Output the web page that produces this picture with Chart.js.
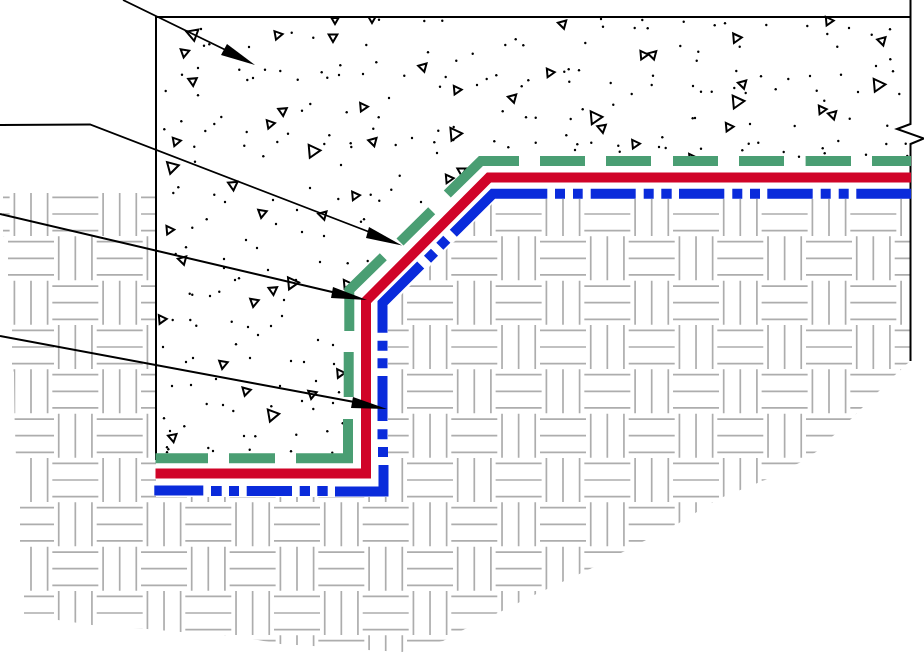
<!DOCTYPE html>
<html>
<head>
<meta charset="utf-8">
<style>
  html, body { margin: 0; padding: 0; background: #fff; }
  canvas { display: block; }
</style>
<script src="https://cdn.jsdelivr.net/npm/chart.js@4"></script>
</head>
<body>
<canvas id="section" width="924" height="652"></canvas>
<script>
// everything is in drawing units: x 0..924, y 0..652 (y runs downwards)

const weaveRows = [214, 258.3, 302.7, 347, 391.3, 435.7, 480, 524.3, 568.7, 613, 657.3];
const weaveCols = [-57.7, 31, 119.7, 208.3, 297, 385.7, 474.3, 563, 651.7, 740.3, 829, 917.7];
const weaveStep = [-16.6, 0, 16.6];

const soilOutline = [[156,0],[924,0],[924,652],[0,652],[0,0],[156,0],[156,193],[3,193],[3,236],[8,238],[8,280],[12,282],[12,325],[12,370],[14,372],[14,414],[15,416],[16,458],[20,460],[20,503],[20,546],[24,548],[24,594],[24,614],[58,620],[92,625],[147,629],[181,632],[236,636],[280,644],[313,646],[368,650],[402,652],[443,641],[465,629],[500,612],[530,597],[590,569],[679,523],[718,499],[765,480],[799,463],[816,452],[833,436],[851,419],[862,408],[879,391],[895,375],[908,363],[911,361],[911,199],[497,199],[388,308],[388,497],[156,497],[156,193]];

const wallLines = [
  [[156,460],[156,17],[911,17]],
  [[910.5,0],[910.5,124],[897,129],[924,138.5],[910.5,144],[910.5,361]]
];
const leaderLines = [
  [[123,0],[240,57]],
  [[0,125],[90,124.5],[385,238]],
  [[0,214],[345,295]],
  [[0,336],[365,404]]
];
const arrowHeads = [
  [[255,65],[227,44],[221,55]],
  [[402,245.5],[369,227],[366,238]],
  [[367,300],[333,287],[331,298]],
  [[387,409],[353,397],[351,408]]
];

const greenDashes = [
  [[447.3,194],[481,161],[519,161]],
  [[540,161],[585,161]], [[606,161],[651,161]], [[673,161],[718,161]],
  [[739,161],[784,161]], [[805.6,161],[851,161]], [[872,161],[911,161]],
  [[431.7,210.7],[400,242]],
  [[383.3,256.7],[349.3,290],[349.3,331]],
  [[348.7,352],[348.7,397]],
  [[348,419],[348,458.3],[296,458.3]],
  [[275,458.3],[229,458.3]],
  [[208,458.3],[155.5,458.3]]
];
const redLine = [[[155.5,473.5],[366,473.5],[366,301],[489,177.5],[911,177.5]]];
const blueDashes = [
  [[453.3,233.3],[493,193.8],[547.3,193.8]],
  [[555,193.8],[565,193.8]], [[573,193.8],[582.7,193.8]],
  [[590.7,193.8],[635.7,193.8]],
  [[643.7,193.8],[653.7,193.8]], [[661.3,193.8],[671.7,193.8]],
  [[679,193.8],[724.3,193.8]],
  [[732.3,193.8],[742.3,193.8]], [[750,193.8],[760,193.8]],
  [[767.3,193.8],[812.7,193.8]],
  [[820.7,193.8],[830.7,193.8]], [[838.7,193.8],[848.7,193.8]],
  [[856.3,193.8],[911,193.8]],
  [[446.8,239.2],[439.8,246.2]], [[434.5,252.2],[427.5,259.2]],
  [[420.7,265],[382.5,303],[382.5,332.7]],
  [[382.5,340.7],[382.5,350.7]], [[382.5,358.3],[382.5,368.3]],
  [[382.5,376],[382.5,421]],
  [[382.5,429.3],[382.5,439.3]], [[383,447],[383,457]],
  [[383.5,465],[383.5,491.5],[335,491.5]],
  [[327.7,491],[317.3,491]], [[310,491],[299.7,491]],
  [[292,491],[246.7,491]],
  [[239,491],[229,491]], [[221.7,491],[211,491]],
  [[203.3,490.5],[154.3,490.5]]
];

// aggregate stones: x, y, size, turn
const stones = [
  [193,34,7,170],[184.5,52.5,5,190],[192.7,81,5,175],[277.7,35,5,200],[333,37,5,180],[335,20,4,180],[372,19,4,180],
  [282.7,111,5,175],[270,124,5,200],[363,107,5,205],[176,141.5,5,200],[313,151,7.5,205],[373,141.5,5,165],[172,167,7,195],
  [562.7,24,5,165],[423,67,5,165],[456.7,90,5,205],[512.7,98,5,165],[549.7,72.7,5,205],[643.3,55,5,205],[652.7,54.7,5,165],
  [595,117.5,7.5,205],[602,128,5,170],[454.7,134,7.5,205],[635,144,5,205],[448.7,178.7,5,205],[461.7,171,5,180],[355,195.7,5,205],
  [346.7,284,5,205],[233,185,5.5,175],[169.3,230,5,205],[323,215,5,165],[262,213,5,190],[182.7,260,5,165],[161.7,319.3,5,205],
  [292,283,7,205],[273,290,5,175],[254,302,5,190],[223,364,5,190],[246,391,5,195],[312,394,5,190],[272.3,415,7,200],[172.7,437.3,5,170],
  [340,373.3,5,205],[736.3,38,5.5,205],[742.7,84,5,165],[737,101.7,7.5,205],[728.7,127,5,205],[828.7,21,5,205],[882,40.7,5,165],
  [878,85,7.5,205],[821.7,109.7,5,205],[832.7,114.7,5,165],[692,158,5,205]
];

const dotsUpperLeft = [[201,29],[204,45.7],[209.3,44.3],[249,47],[291.7,32.7],[313.3,37.7],[366.3,45],[376.3,62.3],[340.3,65.3],[198,68],[182,74.7],[239.3,69.7],[265,69.7],[280.3,71],[247.3,80],[253,78],[297.7,79.7],[321.7,72.3],[327.3,77.7],[339,75],[363,74],[165.7,91],[198,95.3],[389,98],[310.3,104],[302,110.7],[346.7,112.3],[181.3,121.3],[221.3,117],[214.3,124],[164.3,129.3],[205.3,131],[246.7,132],[288,133.7],[329.3,135.3],[378.7,117.3],[373.3,128.7],[194.3,146.7],[244.3,145.7],[277.3,142],[324.3,144],[350.7,143.3],[351.3,147],[263.3,156.3],[195,161.7],[379,19.7]];
const dotsUpperMiddle = [[424.3,21],[442.3,20.7],[601,19],[603,26.7],[634.7,28],[647.7,28.3],[642.3,20],[515.7,39.3],[505.3,45],[523.3,45.3],[585.3,43],[428,52.3],[472.7,53.7],[456.3,60.7],[404.3,75.7],[445.7,77],[496.3,75.3],[486.7,79],[477,85],[440,86.7],[528.3,80.3],[521.7,86.3],[568.7,69.3],[564.3,71.7],[579,70.3],[569.3,81.7],[610.7,83],[653,75.7],[651.7,85],[631.7,94],[613.3,104.7],[582.7,109.3],[502.7,111.3],[526,117.3],[535.7,117.7],[570.7,119],[438.3,130.7],[453.7,127],[453.3,140],[412,138],[434.3,142.3],[395.7,145],[437,153],[494.3,141.3],[508.3,147.3],[535.7,142.7],[566.3,135.3],[577.3,144.3],[575,150],[591.3,142.7],[618.3,145.7],[619.7,151.7],[659,147]];
const dotsUpperRight = [[683.7,21.7],[714.7,25.3],[725,23.3],[766.3,25],[807.3,26],[849,28],[890,29.3],[827.3,34],[871.7,34.7],[680.3,46],[698.3,51.7],[696.7,60.7],[739.7,46.7],[837.3,46.7],[890.3,59.3],[876,66],[893,71.3],[736.3,71],[761,76.3],[788.3,79],[810,76],[841,74.7],[693,86],[701,91.7],[711.7,91.7],[734.3,88],[745.7,93],[775.7,89.3],[816.7,90.7],[858,92],[899.3,94],[824.3,100.7],[692.7,118.3],[695,118],[750,124],[794.7,126],[849.7,118.7],[887.3,125.7],[662.3,137.3],[665.7,148],[701,148.7],[742.3,150.3],[748.7,143.7],[758.3,142.7],[783.7,152],[799,156.7],[822.7,148.3],[824.7,153.3],[838.3,141],[866,154.7],[886.3,144],[905.7,143.7],[907.3,156]];
const dotsLower = [[178.3,187.3],[173.3,193],[214.3,194.7],[225,202],[206.7,219.3],[192.3,227.7],[186,247.3],[175.7,254],[224,259],[235,280],[239,278.3],[219.3,291.7],[189.7,293.7],[192.3,294.7],[172.7,320],[190.3,320],[196.3,325.7],[231.7,321.7],[236,344.3],[399.7,175.7],[391.3,189.7],[370.7,194.7],[379.3,200.7],[338.3,199],[421,202],[364,219.3],[361,221.7],[347.7,263.3],[367.7,261],[206.7,404],[233.3,411],[271.3,406.3],[313.3,409],[164,418.3],[184.3,426.3],[170,431],[244,436],[255.3,436.3],[296.3,434.7],[327.3,431.3],[342.7,423.3],[208.3,448],[213,451],[249.7,449.7],[291,451.3],[332.3,452.7],[167,447.3],[168.3,449.3],[167,452.3],[333,345],[339,392.3],[310,188],[341,165],[297,210],[273,200],[302,232],[257,248],[324,236],[276,224],[246,240],[268,270],[320,262],[296,280],[224,268],[210,296],[248,327],[271,326],[282,316],[258,335],[284,300],[318,340],[291,361],[304,362],[334,364],[316,381],[280,386],[333,403],[302,401],[223,405],[172,386],[191,385],[216,379],[193,358],[186,362],[163,347],[250,358]];

const gap = { x: null, y: null };

function strokes(lines) {
  const out = [];
  lines.forEach(line => {
    line.forEach(p => out.push({ x: p[0], y: p[1] }));
    out.push(gap);
  });
  return out;
}

function weaveLines() {
  const lines = [];
  weaveRows.forEach((rowY, i) => {
    weaveCols.forEach(colX => {
      const upright = i % 2 === 0 ? colX : colX + 44.33;
      const flat = i % 2 === 0 ? colX + 44.33 : colX;
      weaveStep.forEach(d => {
        lines.push([[upright + d, rowY - 22], [upright + d, rowY + 22]]);
        lines.push([[flat - 23, rowY + d], [flat + 23, rowY + d]]);
      });
    });
  });
  return lines;
}

function lineSet(label, lines, color, width) {
  return {
    label, data: strokes(lines), showLine: true, pointRadius: 0, borderColor: color,
    borderWidth: width, borderJoinStyle: 'miter', tension: 0, fill: false, spanGaps: false
  };
}

function shapeSet(label, lines, color) {
  return {
    label, data: strokes(lines), showLine: true, pointRadius: 0, borderWidth: 0,
    borderColor: color, backgroundColor: color, fill: 'shape', tension: 0, spanGaps: false
  };
}

function dotSet(label, dots) {
  return {
    label, data: dots.map(d => ({ x: d[0], y: d[1] })), pointStyle: 'circle',
    pointRadius: 1.2, pointBorderWidth: 0, pointBackgroundColor: '#000'
  };
}

// first dataset ends up on top
new Chart(document.getElementById('section'), {
  type: 'scatter',
  data: {
    datasets: [
      shapeSet('arrow heads', arrowHeads, '#000'),
      lineSet('leaders', leaderLines, '#000', 1.8),
      lineSet('blue', blueDashes, '#0a2bdb', 10),
      lineSet('red', redLine, '#d00428', 10),
      lineSet('green', greenDashes, '#4a9e73', 10),
      lineSet('walls', wallLines, '#000', 2),
      {
        label: 'stones',
        data: stones.map(s => ({ x: s[0], y: s[1] })),
        pointStyle: 'triangle',
        pointRadius: stones.map(s => s[2]),
        pointRotation: stones.map(s => s[3]),
        pointBorderWidth: 2,
        pointBorderColor: '#000',
        pointBackgroundColor: 'rgba(0,0,0,0)'
      },
      dotSet('dots upper left', dotsUpperLeft),
      dotSet('dots upper middle', dotsUpperMiddle),
      dotSet('dots upper right', dotsUpperRight),
      dotSet('dots lower', dotsLower),
      shapeSet('soil mask', [soilOutline], '#fff'),
      lineSet('soil weave', weaveLines(), '#adadad', 1.7)
    ]
  },
  options: {
    responsive: false,
    animation: false,
    layout: { padding: 0, autoPadding: false },
    plugins: { legend: { display: false }, tooltip: { enabled: false } },
    scales: {
      x: { type: 'linear', min: 0, max: 924, display: false },
      y: { type: 'linear', min: 0, max: 652, reverse: true, display: false }
    }
  }
});
</script>
</body>
</html>
